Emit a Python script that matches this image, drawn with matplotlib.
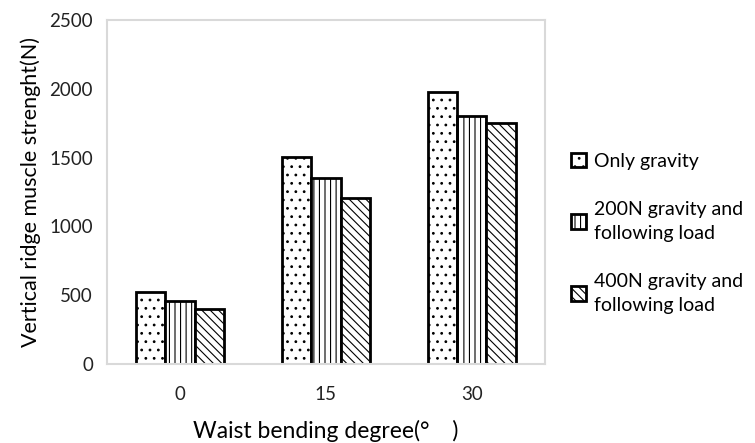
import numpy as np
import matplotlib
matplotlib.use('Agg')
import matplotlib.pyplot as plt

plt.rcParams['font.family'] = ['Lato', 'Noto Sans CJK SC', 'DejaVu Sans']
plt.rcParams['hatch.linewidth'] = 0.8

degrees = ['0', '15', '30']
only_gravity = [525, 1505, 1980]
load_200 = [455, 1350, 1805]
load_400 = [400, 1205, 1755]
series_names = ['Only gravity', '200N gravity and\nfollowing load', '400N gravity and\nfollowing load']
hatches = ['..', '|||', '\\\\\\\\']

fig = plt.figure(figsize=(7.55, 4.43), dpi=100)
ax = fig.add_axes([0.1417, 0.1783, 0.580, 0.7766])

x = np.arange(len(degrees))
w = 0.2
for i, vals in enumerate([only_gravity, load_200, load_400]):
    ax.bar(x + (i - 1) * w, vals, w, color='white', edgecolor='black',
           linewidth=2, hatch=hatches[i], label=series_names[i])

ax.set_xlim(-0.5, 2.5)
ax.set_ylim(0, 2500)
ax.set_yticks(range(0, 2501, 500))
ax.set_xticks(x)
ax.set_xticklabels(degrees)
ax.tick_params(length=0, labelsize=13.5, colors='#222222')
ax.tick_params(axis='x', pad=16)
ax.tick_params(axis='y', pad=10)
for s in ax.spines.values():
    s.set_color('#d9d9d9')
    s.set_linewidth(1.5)

ax.set_ylabel('Vertical ridge muscle strenght(N)', fontsize=15.5, labelpad=6)
ax.set_xlabel('Waist bending degree(°\u3000)', fontsize=16.5, labelpad=12)

leg = ax.legend(loc='center left', bbox_to_anchor=(1.02, 0.38), frameon=False,
                fontsize=14, handlelength=0.75, handleheight=0.75, handletextpad=0.4,
                labelspacing=1.6)
for t in leg.get_texts():
    t.set_linespacing(1.5)

fig.savefig('out.png', dpi=100)
